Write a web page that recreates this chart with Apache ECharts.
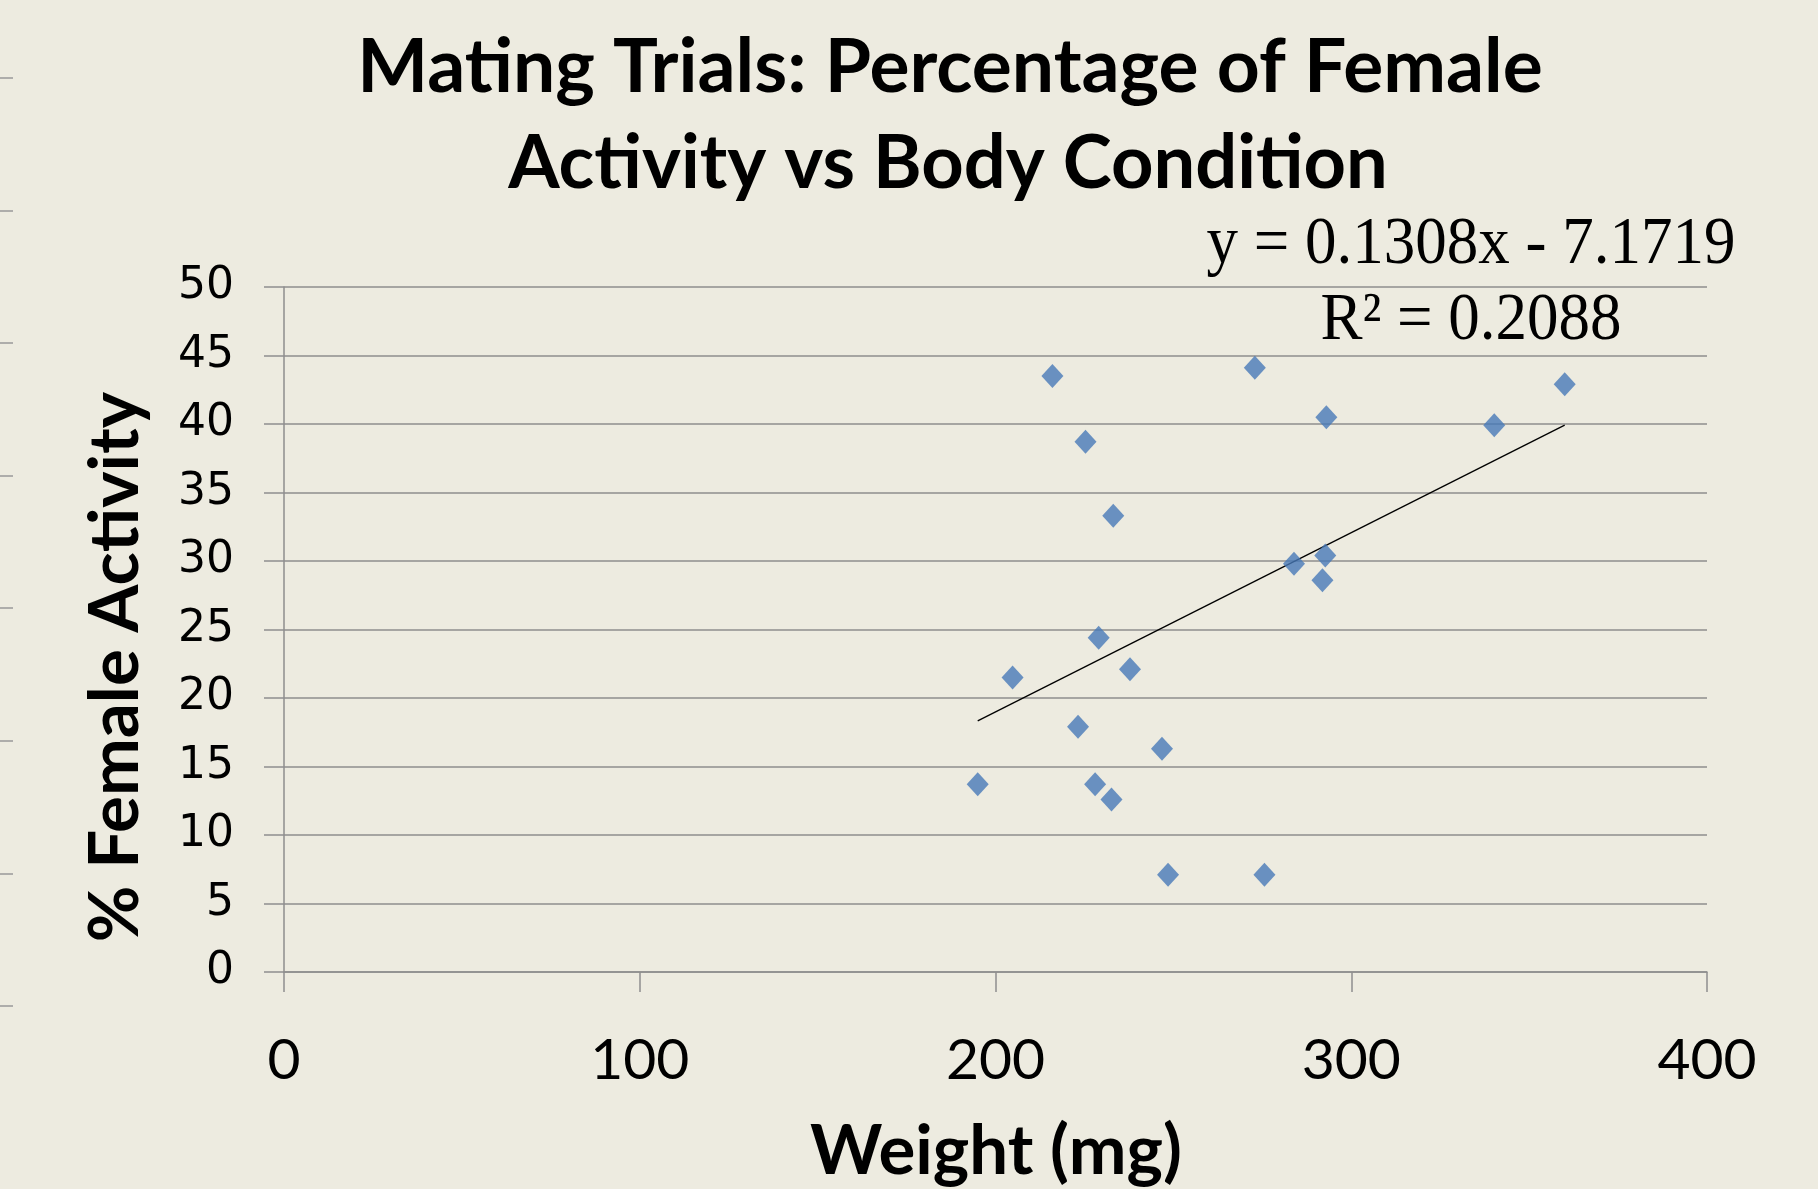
<!DOCTYPE html>
<html>
<head>
<meta charset="utf-8">
<script src="https://cdn.jsdelivr.net/npm/echarts@6/dist/echarts.min.js"></script>
<style>
html,body{margin:0;padding:0;background:#EDEBE0;}
#chart{width:1818px;height:1189px;}
</style>
</head>
<body>
<div id="chart"></div>
<script>
// ---- data ----
const weights  = [216.0, 272.9, 360.0, 293.0, 340.2, 225.3, 233.1, 292.7, 283.9, 291.9, 229.0, 204.8, 237.8, 223.2, 246.8, 195.0, 228.0, 232.6, 248.5, 275.6];
const activity = [43.5, 44.1, 42.9, 40.5, 39.9, 38.7, 33.3, 30.4, 29.8, 28.6, 24.4, 21.5, 22.1, 17.9, 16.3, 13.7, 13.7, 12.6, 7.1, 7.1];
const trendSlope = 0.1308;
const trendIntercept = -7.1719;
const rSquared = '0.2088';
const xTicks = [0, 100, 200, 300, 400];
const yTicks = [0, 5, 10, 15, 20, 25, 30, 35, 40, 45, 50];
const titleLines = ['Mating Trials: Percentage of Female', 'Activity vs Body Condition'];
const xTitle = 'Weight (mg)';
const yTitle = '% Female Activity';

const points = weights.map((w, i) => [w, activity[i]]);
const xMin = Math.min(...weights), xMax = Math.max(...weights);
const trend = [[xMin, trendSlope * xMin + trendIntercept], [xMax, trendSlope * xMax + trendIntercept]];

const chart = echarts.init(document.getElementById('chart'));
const grey = '#8e8e8e';
chart.setOption({
  backgroundColor: '#EDEBE0',
  animation: false,
  grid: [
    {left: 284, right: 111, top: 287, bottom: 217},
    {left: 0, width: 1, top: 77.7, height: 928.3}
  ],
  xAxis: [
    {type: 'value', min: xTicks[0], max: xTicks[xTicks.length-1], interval: 100,
     axisLine: {show: true, onZero: false, lineStyle: {color: grey, width: 1.5}},
     axisTick: {show: true, length: 20, lineStyle: {color: grey, width: 1.5}},
     splitLine: {show: false},
     axisLabel: {margin: 60, color: '#000', fontFamily: 'Lato', fontSize: 57}},
    {gridIndex: 1, type: 'value', show: false, min: 0, max: 1}
  ],
  yAxis: [
    {type: 'value', min: yTicks[0], max: yTicks[yTicks.length-1], interval: 5,
     axisLine: {show: true, onZero: false, lineStyle: {color: grey, width: 1.5}},
     axisTick: {show: true, length: 20, lineStyle: {color: grey, width: 1.5}},
     splitLine: {show: true, lineStyle: {color: grey, width: 1.5}},
     axisLabel: {margin: 50, color: '#000', fontFamily: 'DejaVu Sans', fontSize: 44}},
    {gridIndex: 1, type: 'value', min: 0, max: 7, interval: 1,
     axisLine: {show: false}, splitLine: {show: false}, axisLabel: {show: false},
     axisTick: {show: true, inside: true, length: 13, lineStyle: {color: '#999', width: 1.5}}}
  ],
  series: [
    {type: 'line', data: trend, symbol: 'none', lineStyle: {color: '#000', width: 1.3}, z: 2},
    {type: 'scatter', data: points, symbol: 'diamond', symbolSize: [22, 24],
     itemStyle: {color: '#4779B8'}, z: 3}
  ],
  graphic: [
    {type: 'text', x: 950, y: 68, style: {text: titleLines[0], fontFamily: 'Lato', fontWeight: 'bold', fontSize: 75, fill: '#000', textAlign: 'center', textVerticalAlign: 'middle'}},
    {type: 'text', x: 948, y: 164, style: {text: titleLines[1], fontFamily: 'Lato', fontWeight: 'bold', fontSize: 74, fill: '#000', textAlign: 'center', textVerticalAlign: 'middle'}},
    {type: 'text', x: 996, y: 1152, style: {text: xTitle, fontFamily: 'Lato', fontWeight: 'bold', fontSize: 69, fill: '#000', textAlign: 'center', textVerticalAlign: 'middle'}},
    {type: 'text', x: 116, y: 667, rotation: Math.PI / 2, style: {text: yTitle, fontFamily: 'Lato', fontWeight: 'bold', fontSize: 69, fill: '#000', textAlign: 'center', textVerticalAlign: 'middle'}},
    {type: 'text', x: 1471, y: 245, scaleY: 1.08, style: {text: 'y = ' + trendSlope + 'x - ' + Math.abs(trendIntercept), fontFamily: 'Liberation Serif', fontSize: 63, fill: '#000', textAlign: 'center', textVerticalAlign: 'middle'}},
    {type: 'text', x: 1471, y: 321, scaleY: 1.08, style: {text: 'R² = ' + rSquared, fontFamily: 'Liberation Serif', fontSize: 63, fill: '#000', textAlign: 'center', textVerticalAlign: 'middle'}}
  ]
});
</script>
</body>
</html>
